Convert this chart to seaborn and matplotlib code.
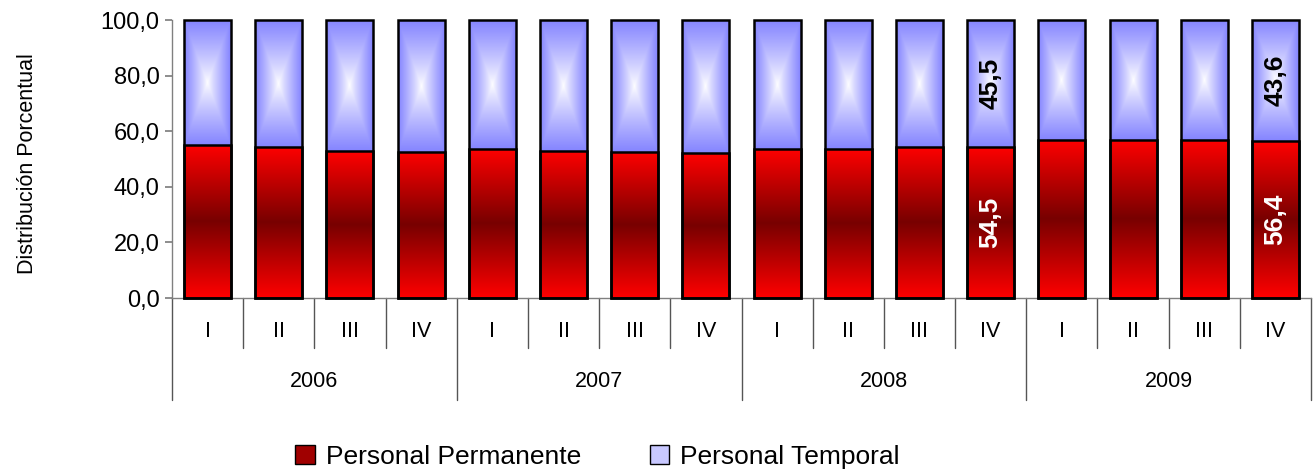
import numpy as np
import pandas as pd
import matplotlib
matplotlib.use("Agg")
import matplotlib.pyplot as plt
import seaborn as sns
from matplotlib.patches import Patch

years = ["2006", "2007", "2008", "2009"]
quarters = ["I", "II", "III", "IV"]
permanente = [55.1, 54.4, 52.8, 52.7, 53.6, 52.9, 52.7, 52.0,
              53.6, 53.6, 54.5, 54.5, 57.0, 57.0, 57.0, 56.4]
temporal = [44.9, 45.6, 47.2, 47.3, 46.4, 47.1, 47.3, 48.0,
            46.4, 46.4, 45.5, 45.5, 43.0, 43.0, 43.0, 43.6]
labeled_idx = [11, 15]
serie_names = ["Personal Permanente", "Personal Temporal"]
ylabel = "Distribución Porcentual"
yticks = [0, 20, 40, 60, 80, 100]

sns.set_theme(style="white")
plt.rcParams["font.family"] = ["Liberation Sans", "DejaVu Sans"]
plt.rcParams["text.color"] = "black"
plt.rcParams["ytick.labelcolor"] = "black"
plt.rcParams["xtick.labelcolor"] = "black"

df = pd.DataFrame({
    "cat": [f"{y} {q}" for y in years for q in quarters],
    "perm": permanente,
    "temp": temporal,
})
df["total"] = df["perm"] + df["temp"]

fig = plt.figure(figsize=(13.13, 4.72), dpi=100)
ax = fig.add_axes([0.131, 0.3686, 0.8675, 0.5890])

W = 0.66
sns.barplot(data=df, x="cat", y="total", color="#8080FF", width=W, ax=ax,
            saturation=1, errorbar=None)
sns.barplot(data=df, x="cat", y="perm", color="#FF0000", width=W, ax=ax,
            saturation=1, errorbar=None)
patches = list(ax.patches)
temp_p = patches[:16]
perm_p = patches[16:]

# gradients
v = np.linspace(-1, 1, 256)
t = np.abs(v)[:, None]
dark = np.array([0.47, 0.0, 0.0])
bright = np.array([1.0, 0.0, 0.0])
red_img = dark[None, None, :] * (1 - t[..., None]) + bright[None, None, :] * t[..., None]

uu, vv = np.meshgrid(np.linspace(-1, 1, 80), np.linspace(-1, 1, 200))
tb = np.maximum(np.abs(uu), np.abs(vv)) ** 0.85
white = np.array([1.0, 1.0, 1.0])
edge = np.array([0.52, 0.52, 1.0])
blue_img = white[None, None, :] * (1 - tb[..., None]) + edge[None, None, :] * tb[..., None]

for i, (pt, pp) in enumerate(zip(temp_p, perm_p)):
    x0 = pp.get_x()
    w = pp.get_width()
    ptop = pp.get_height()
    ttop = pt.get_height()
    ax.imshow(red_img, extent=(x0, x0 + w, 0, ptop), aspect="auto",
              interpolation="bilinear", zorder=1)
    ax.imshow(blue_img, extent=(x0, x0 + w, ptop, ttop), aspect="auto",
              interpolation="bilinear", zorder=1)
    for p in (pt, pp):
        p.set_facecolor("none")
        p.set_edgecolor("black")
        p.set_linewidth(1.8)
        p.set_zorder(3)
        p.set_clip_on(False)

ax.set_xlim(-0.5, 15.5)
ax.set_ylim(0, 100)
ax.set_xticks([])
ax.set_xlabel("")
ax.set_ylabel("")
ax.set_yticks(yticks)
ax.set_yticklabels([f"{y:.1f}".replace(".", ",") for y in yticks])
ax.tick_params(axis="y", direction="out", length=5, color="#808080",
               labelsize=17, pad=4, left=True, labelcolor="black")
for s in ("top", "right"):
    ax.spines[s].set_visible(False)
for s in ("left", "bottom"):
    ax.spines[s].set_color("#808080")
    ax.spines[s].set_linewidth(1.0)

trans = ax.get_xaxis_transform()
for b in range(17):
    x = b - 0.5
    depth = -0.367 if b % 4 == 0 else -0.18
    ax.plot([x, x], [0, depth], transform=trans, color="#555555", lw=1,
            clip_on=False)
for i in range(16):
    ax.text(i, -0.12, quarters[i % 4], transform=trans, ha="center",
            va="center", fontsize=15.5, color="black")
for k, y in enumerate(years):
    ax.text(4 * k + 1.5, -0.30, y, transform=trans, ha="center",
            va="center", fontsize=15.5, color="black")

for i in labeled_idx:
    pv = permanente[i]
    tv = temporal[i]
    ax.text(i, pv / 2, f"{pv:.1f}".replace(".", ","), rotation=90,
            ha="center", va="center", color="white", fontsize=19,
            fontweight="bold", zorder=5)
    ax.text(i, pv + tv / 2, f"{tv:.1f}".replace(".", ","), rotation=90,
            ha="center", va="center", color="black", fontsize=19,
            fontweight="bold", zorder=5)

fig.text(0.0206, 0.654, ylabel, rotation=90, ha="center", va="center",
         fontsize=15.5, color="black")

handles = [Patch(facecolor="#A00000", edgecolor="black", lw=1),
           Patch(facecolor="#C8C8FF", edgecolor="black", lw=1)]
fig.legend(handles, serie_names, loc="center", bbox_to_anchor=(0.455, 0.032),
           ncol=2, frameon=False, fontsize=19, handlelength=0.75,
           handleheight=0.75, handletextpad=0.4, columnspacing=2.6,
           labelcolor="black")

fig.savefig("out.png", dpi=100)
